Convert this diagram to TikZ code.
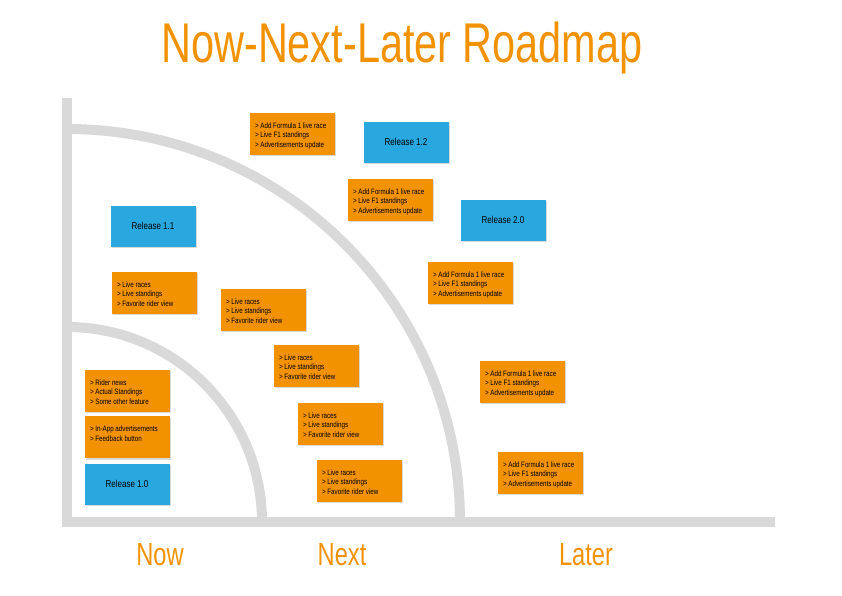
\documentclass[tikz,border=0pt]{standalone}
\usepackage{fontspec}
\setmainfont{Liberation Sans}
\newfontfamily\handfont[FakeStretch=0.8]{Liberation Sans}
\newfontfamily\titlefont[FakeStretch=0.74]{Liberation Sans}
\usepackage{xcolor}
\usepackage{tikz}
\usetikzlibrary{positioning,shadows}

\definecolor{roadorange}{RGB}{243,146,0}
\definecolor{roadblue}{RGB}{41,168,224}
\definecolor{trackgray}{RGB}{217,217,217}

\newcommand{\items}[1]{\parbox[c][23pt][t]{74pt}{\raggedright #1}}
\newcommand{\formulaitems}{\items{> Add Formula 1 live race\\> Live F1 standings\\> Advertisements update}}
\newcommand{\liveitems}{\items{> Live races\\> Live standings\\> Favorite rider view}}

\begin{document}
\begin{tikzpicture}[x=1pt, y=-1pt,
    track/.style={draw=trackgray, line width=10pt},
    release/.style={fill=roadblue, minimum width=85pt, minimum height=41pt, inner sep=0pt,
        font=\handfont\fontsize{10}{12}\selectfont,
        drop shadow={shadow xshift=1.2pt, shadow yshift=-1.2pt, opacity=0.3}},
    feature/.style={fill=roadorange, inner xsep=5.5pt, inner ysep=9.5pt,
        font=\handfont\fontsize{7.8}{9.6}\selectfont,
        drop shadow={shadow xshift=1.2pt, shadow yshift=-1.2pt, opacity=0.3}},
    heading/.style={text=roadorange, font=\titlefont\fontsize{56}{60}\selectfont},
    lane/.style={text=roadorange, font=\titlefont\fontsize{32}{36}\selectfont}]
    \useasboundingbox (0,0) rectangle (842,595);

    \node[heading, anchor=base] (title) at (402,62) {Now-Next-Later Roadmap};

    % axes and horizons
    \coordinate (origin) at (67,522);
    \draw[track] (67,98) -- (origin) -- (775,522);
    \draw[track] (origin) ++(0,-195) arc[start angle=90, end angle=0, radius=195pt];
    \draw[track] (origin) ++(0,-393) arc[start angle=90, end angle=0, radius=393pt];

    \node[lane, anchor=base] (now) at (160,565) {Now};
    \node[lane, anchor=base] (next) at (342,565) {Next};
    \node[lane, anchor=base] (later) at (586,565) {Later};

    % now
    \node[feature] (rider) at (127,391) {\items{> Rider news\\> Actual Standings\\> Some other feature}};
    \node[feature, below=4pt of rider] (inapp) {\items{> In-App advertisements\\> Feedback button}};
    \node[release, below=5pt of inapp] (rel10) {Release 1.0};

    % next
    \node[release] (rel11) at (153,226) {Release 1.1};
    \node[feature] (live1) at (154,293) {\liveitems};
    \node[feature] (live2) at (263,310) {\liveitems};
    \node[feature] (live3) at (316,366) {\liveitems};
    \node[feature] (live4) at (340,424) {\liveitems};
    \node[feature] (live5) at (359,481) {\liveitems};

    % later
    \node[release] (rel12) at (406,142) {Release 1.2};
    \node[release] (rel20) at (503,220) {Release 2.0};
    \node[feature] (formula1) at (292,134) {\formulaitems};
    \node[feature] (formula2) at (390,200) {\formulaitems};
    \node[feature] (formula3) at (470,283) {\formulaitems};
    \node[feature] (formula4) at (522,382) {\formulaitems};
    \node[feature] (formula5) at (540,473) {\formulaitems};
\end{tikzpicture}
\end{document}
